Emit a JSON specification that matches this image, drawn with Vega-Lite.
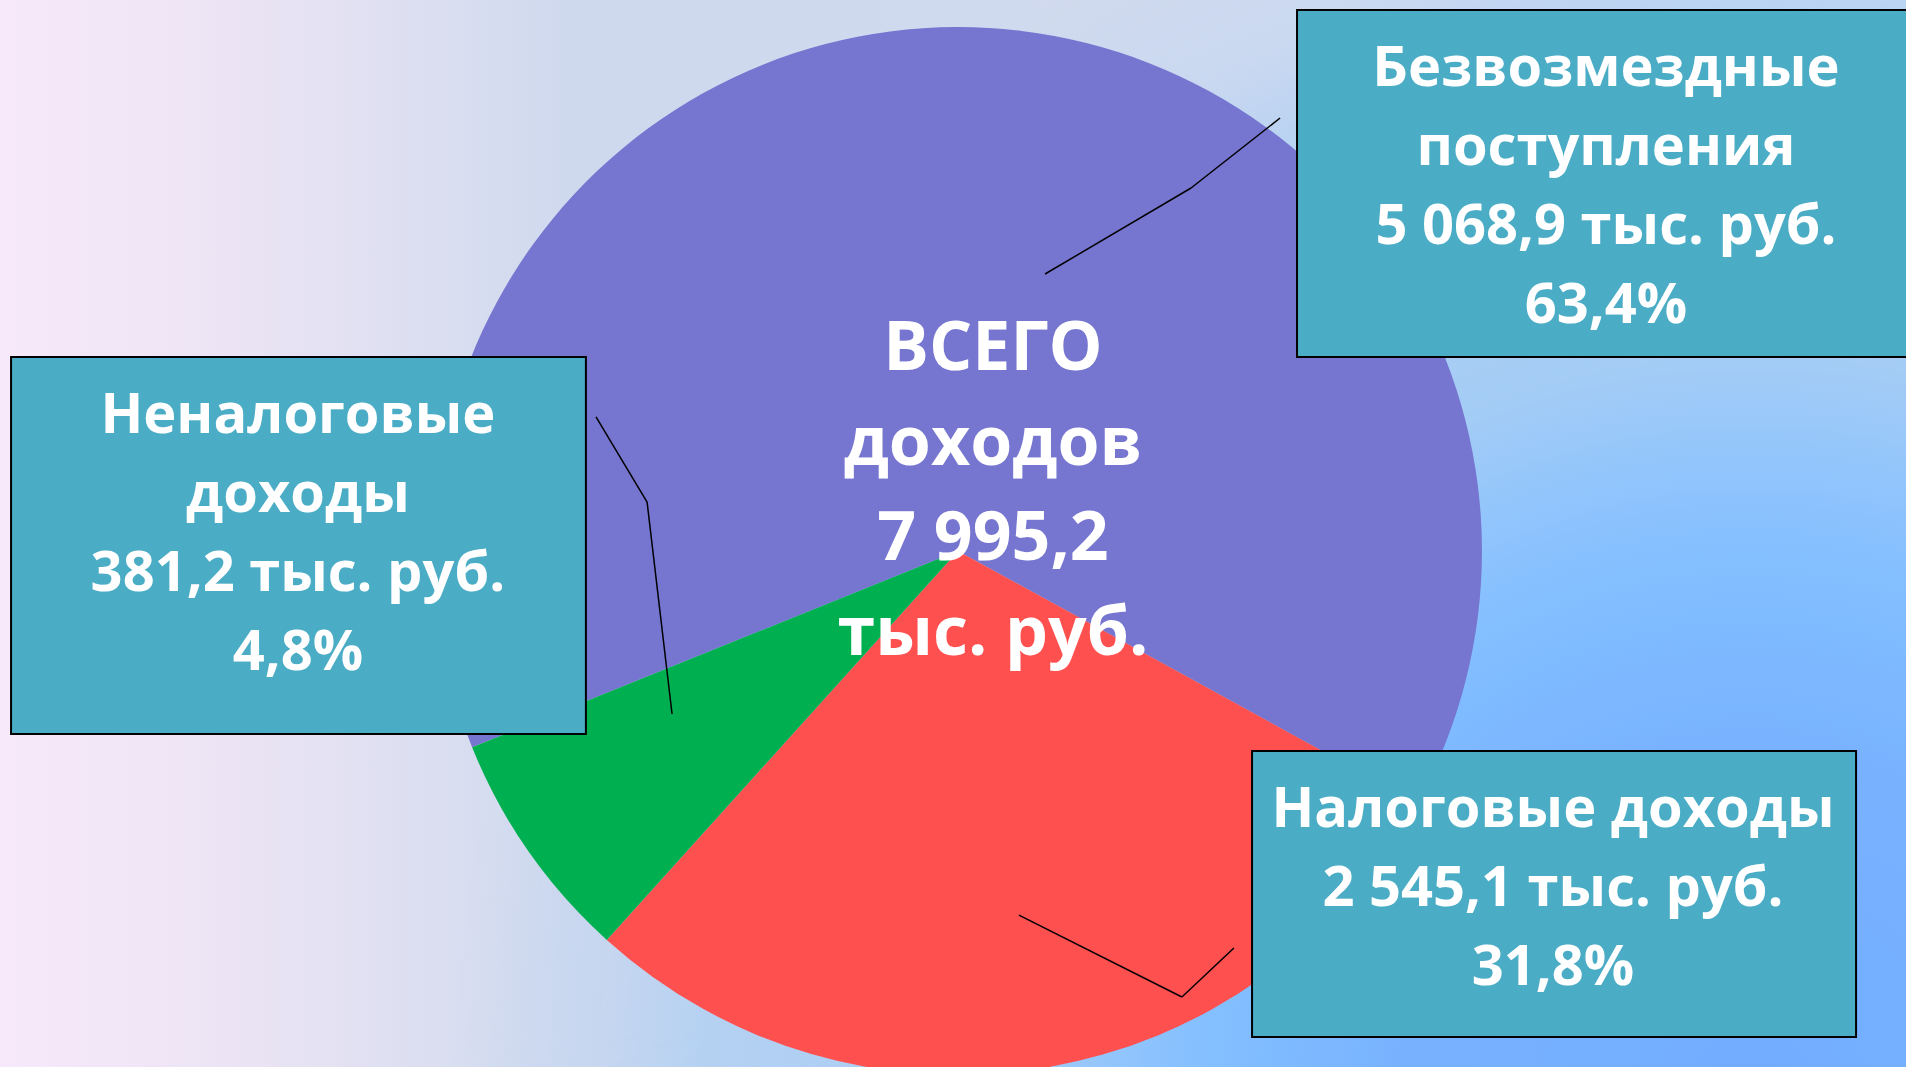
{
  "$schema": "https://vega.github.io/schema/vega-lite/v6.json",
  "width": 1906,
  "height": 1067,
  "autosize": {"type": "fit", "contains": "padding"},
  "padding": 0,
  "background": "#dde0f1",
  "config": {"view": {"stroke": null}},
  "datasets": {
    "slices": [
      {"category": "Безвозмездные", "share": 64.1, "label": "Безвозмездные\nпоступления\n5 068,9 тыс. руб.\n63,4%"},
      {"category": "Налоговые", "share": 28.7, "label": "Налоговые доходы\n2 545,1 тыс. руб.\n31,8%"},
      {"category": "Неналоговые", "share": 7.2, "label": "Неналоговые\nдоходы\n381,2 тыс. руб.\n4,8%"}
    ],
    "total": [{"label": "ВСЕГО\nдоходов\n7 995,2\nтыс. руб."}]
  },
  "data": {"name": "slices"},
  "layer": [
    {
      "data": {"name": "total"},
      "mark": {"type": "rect", "stroke": null, "fill": {"gradient": "linear", "x1": 0, "y1": 0, "x2": 1, "y2": 0, "stops": [
        {"offset": 0, "color": "#f7e9f9"},
        {"offset": 0.12, "color": "#ece4f4"},
        {"offset": 0.22, "color": "#dcdff1"},
        {"offset": 0.3, "color": "#cfd9ee"},
        {"offset": 0.5, "color": "#d0daee"},
        {"offset": 0.7, "color": "#d3dbef"},
        {"offset": 1, "color": "#c8d8f2"}
      ]}},
      "encoding": {
        "x": {"datum": 0, "type": "quantitative", "scale": {"type": "linear", "domain": [0, 100], "nice": false, "zero": false}, "axis": null},
        "x2": {"datum": 100},
        "y": {"datum": 0, "type": "quantitative", "scale": {"type": "linear", "domain": [0, 100], "nice": false, "zero": false, "reverse": true}, "axis": null},
        "y2": {"datum": 100}
      }
    },
    {
      "data": {"name": "total"},
      "mark": {"type": "rect", "stroke": null, "fill": {"gradient": "radial", "x1": 0.9182, "y1": 0.7972, "r1": 0, "x2": 0.9182, "y2": 0.7972, "r2": 0.682, "stops": [
        {"offset": 0, "color": "#72acff"},
        {"offset": 0.269, "color": "#78b2ff"},
        {"offset": 0.385, "color": "#80bcff"},
        {"offset": 0.431, "color": "#86c0ff"},
        {"offset": 0.5, "color": "#94c6fb"},
        {"offset": 0.573, "color": "#a4ccf5"},
        {"offset": 0.654, "color": "rgba(164,204,245,0.85)"},
        {"offset": 0.808, "color": "rgba(164,204,245,0.6)"},
        {"offset": 0.885, "color": "rgba(164,204,245,0.2)"},
        {"offset": 1, "color": "rgba(164,204,245,0)"}
      ]}},
      "encoding": {
        "x": {"datum": 0, "type": "quantitative"},
        "x2": {"datum": 100},
        "y": {"datum": 0, "type": "quantitative"},
        "y2": {"datum": 100}
      }
    },
    {
      "mark": {"type": "arc", "outerRadius": 524, "stroke": null, "clip": true},
      "encoding": {
        "theta": {"field": "share", "type": "quantitative", "stack": true, "scale": {"range": [4.3284, 10.6116]}},
        "color": {"field": "category", "type": "nominal", "scale": {"domain": ["Безвозмездные", "Налоговые", "Неналоговые"], "range": ["#7676d0", "#ff5050", "#00b050"]}, "legend": null},
        "x": {"datum": 50.26, "type": "quantitative"},
        "y": {"datum": 51.64, "type": "quantitative"}
      }
    },
    {
      "transform": [{"filter": "datum.category === 'Безвозмездные'"}],
      "mark": {"type": "rect", "fill": "#4bacc6", "stroke": "#000000", "strokeWidth": 2, "clip": true},
      "encoding": {
        "x": {"datum": 68.05, "type": "quantitative"},
        "x2": {"datum": 101},
        "y": {"datum": 0.94, "type": "quantitative"},
        "y2": {"datum": 33.46}
      }
    },
    {
      "transform": [{"filter": "datum.category === 'Неналоговые'"}],
      "mark": {"type": "rect", "fill": "#4bacc6", "stroke": "#000000", "strokeWidth": 2},
      "encoding": {
        "x": {"datum": 0.58, "type": "quantitative"},
        "x2": {"datum": 30.74},
        "y": {"datum": 33.46, "type": "quantitative"},
        "y2": {"datum": 68.79}
      }
    },
    {
      "transform": [{"filter": "datum.category === 'Налоговые'"}],
      "mark": {"type": "rect", "fill": "#4bacc6", "stroke": "#000000", "strokeWidth": 2},
      "encoding": {
        "x": {"datum": 65.69, "type": "quantitative"},
        "x2": {"datum": 97.38},
        "y": {"datum": 70.38, "type": "quantitative"},
        "y2": {"datum": 97.19}
      }
    },
    {
      "transform": [{"filter": "datum.category === 'Безвозмездные'"}],
      "mark": {"type": "rule", "stroke": "#000000", "strokeWidth": 1.5},
      "encoding": {"x": {"datum": 54.83, "type": "quantitative"}, "y": {"datum": 25.68, "type": "quantitative"}, "x2": {"datum": 62.49}, "y2": {"datum": 17.62}}
    },
    {
      "transform": [{"filter": "datum.category === 'Безвозмездные'"}],
      "mark": {"type": "rule", "stroke": "#000000", "strokeWidth": 1.5},
      "encoding": {"x": {"datum": 62.49, "type": "quantitative"}, "y": {"datum": 17.62, "type": "quantitative"}, "x2": {"datum": 67.16}, "y2": {"datum": 11.06}}
    },
    {
      "transform": [{"filter": "datum.category === 'Неналоговые'"}],
      "mark": {"type": "rule", "stroke": "#000000", "strokeWidth": 1.5},
      "encoding": {"x": {"datum": 31.27, "type": "quantitative"}, "y": {"datum": 39.08, "type": "quantitative"}, "x2": {"datum": 33.95}, "y2": {"datum": 47.05}}
    },
    {
      "transform": [{"filter": "datum.category === 'Неналоговые'"}],
      "mark": {"type": "rule", "stroke": "#000000", "strokeWidth": 1.5},
      "encoding": {"x": {"datum": 33.95, "type": "quantitative"}, "y": {"datum": 47.05, "type": "quantitative"}, "x2": {"datum": 35.26}, "y2": {"datum": 66.92}}
    },
    {
      "transform": [{"filter": "datum.category === 'Налоговые'"}],
      "mark": {"type": "rule", "stroke": "#000000", "strokeWidth": 1.5},
      "encoding": {"x": {"datum": 53.46, "type": "quantitative"}, "y": {"datum": 85.76, "type": "quantitative"}, "x2": {"datum": 62.01}, "y2": {"datum": 93.44}}
    },
    {
      "transform": [{"filter": "datum.category === 'Налоговые'"}],
      "mark": {"type": "rule", "stroke": "#000000", "strokeWidth": 1.5},
      "encoding": {"x": {"datum": 62.01, "type": "quantitative"}, "y": {"datum": 93.44, "type": "quantitative"}, "x2": {"datum": 64.74}, "y2": {"datum": 88.85}}
    },
    {
      "transform": [{"filter": "datum.category === 'Безвозмездные'"}],
      "mark": {"type": "text", "lineBreak": "\n", "lineHeight": 79, "font": "Open Sans", "fontWeight": "bold", "fontSize": 56, "fill": "#ffffff", "align": "center", "baseline": "middle"},
      "encoding": {"text": {"field": "label", "type": "nominal"}, "x": {"datum": 84.26, "type": "quantitative"}, "y": {"datum": 6.47, "type": "quantitative"}}
    },
    {
      "transform": [{"filter": "datum.category === 'Неналоговые'"}],
      "mark": {"type": "text", "lineBreak": "\n", "lineHeight": 79, "font": "Open Sans", "fontWeight": "bold", "fontSize": 56, "fill": "#ffffff", "align": "center", "baseline": "middle"},
      "encoding": {"text": {"field": "label", "type": "nominal"}, "x": {"datum": 15.63, "type": "quantitative"}, "y": {"datum": 39.0, "type": "quantitative"}}
    },
    {
      "transform": [{"filter": "datum.category === 'Налоговые'"}],
      "mark": {"type": "text", "lineBreak": "\n", "lineHeight": 79, "font": "Open Sans", "fontWeight": "bold", "fontSize": 56, "fill": "#ffffff", "align": "center", "baseline": "middle"},
      "encoding": {"text": {"field": "label", "type": "nominal"}, "x": {"datum": 81.48, "type": "quantitative"}, "y": {"datum": 75.9, "type": "quantitative"}}
    },
    {
      "data": {"name": "total"},
      "mark": {"type": "text", "lineBreak": "\n", "lineHeight": 95, "font": "Open Sans", "fontWeight": "bold", "fontSize": 68, "fill": "#ffffff", "align": "center", "baseline": "middle"},
      "encoding": {"text": {"field": "label", "type": "nominal"}, "x": {"datum": 52.1, "type": "quantitative"}, "y": {"datum": 32.8, "type": "quantitative"}}
    }
  ]
}
